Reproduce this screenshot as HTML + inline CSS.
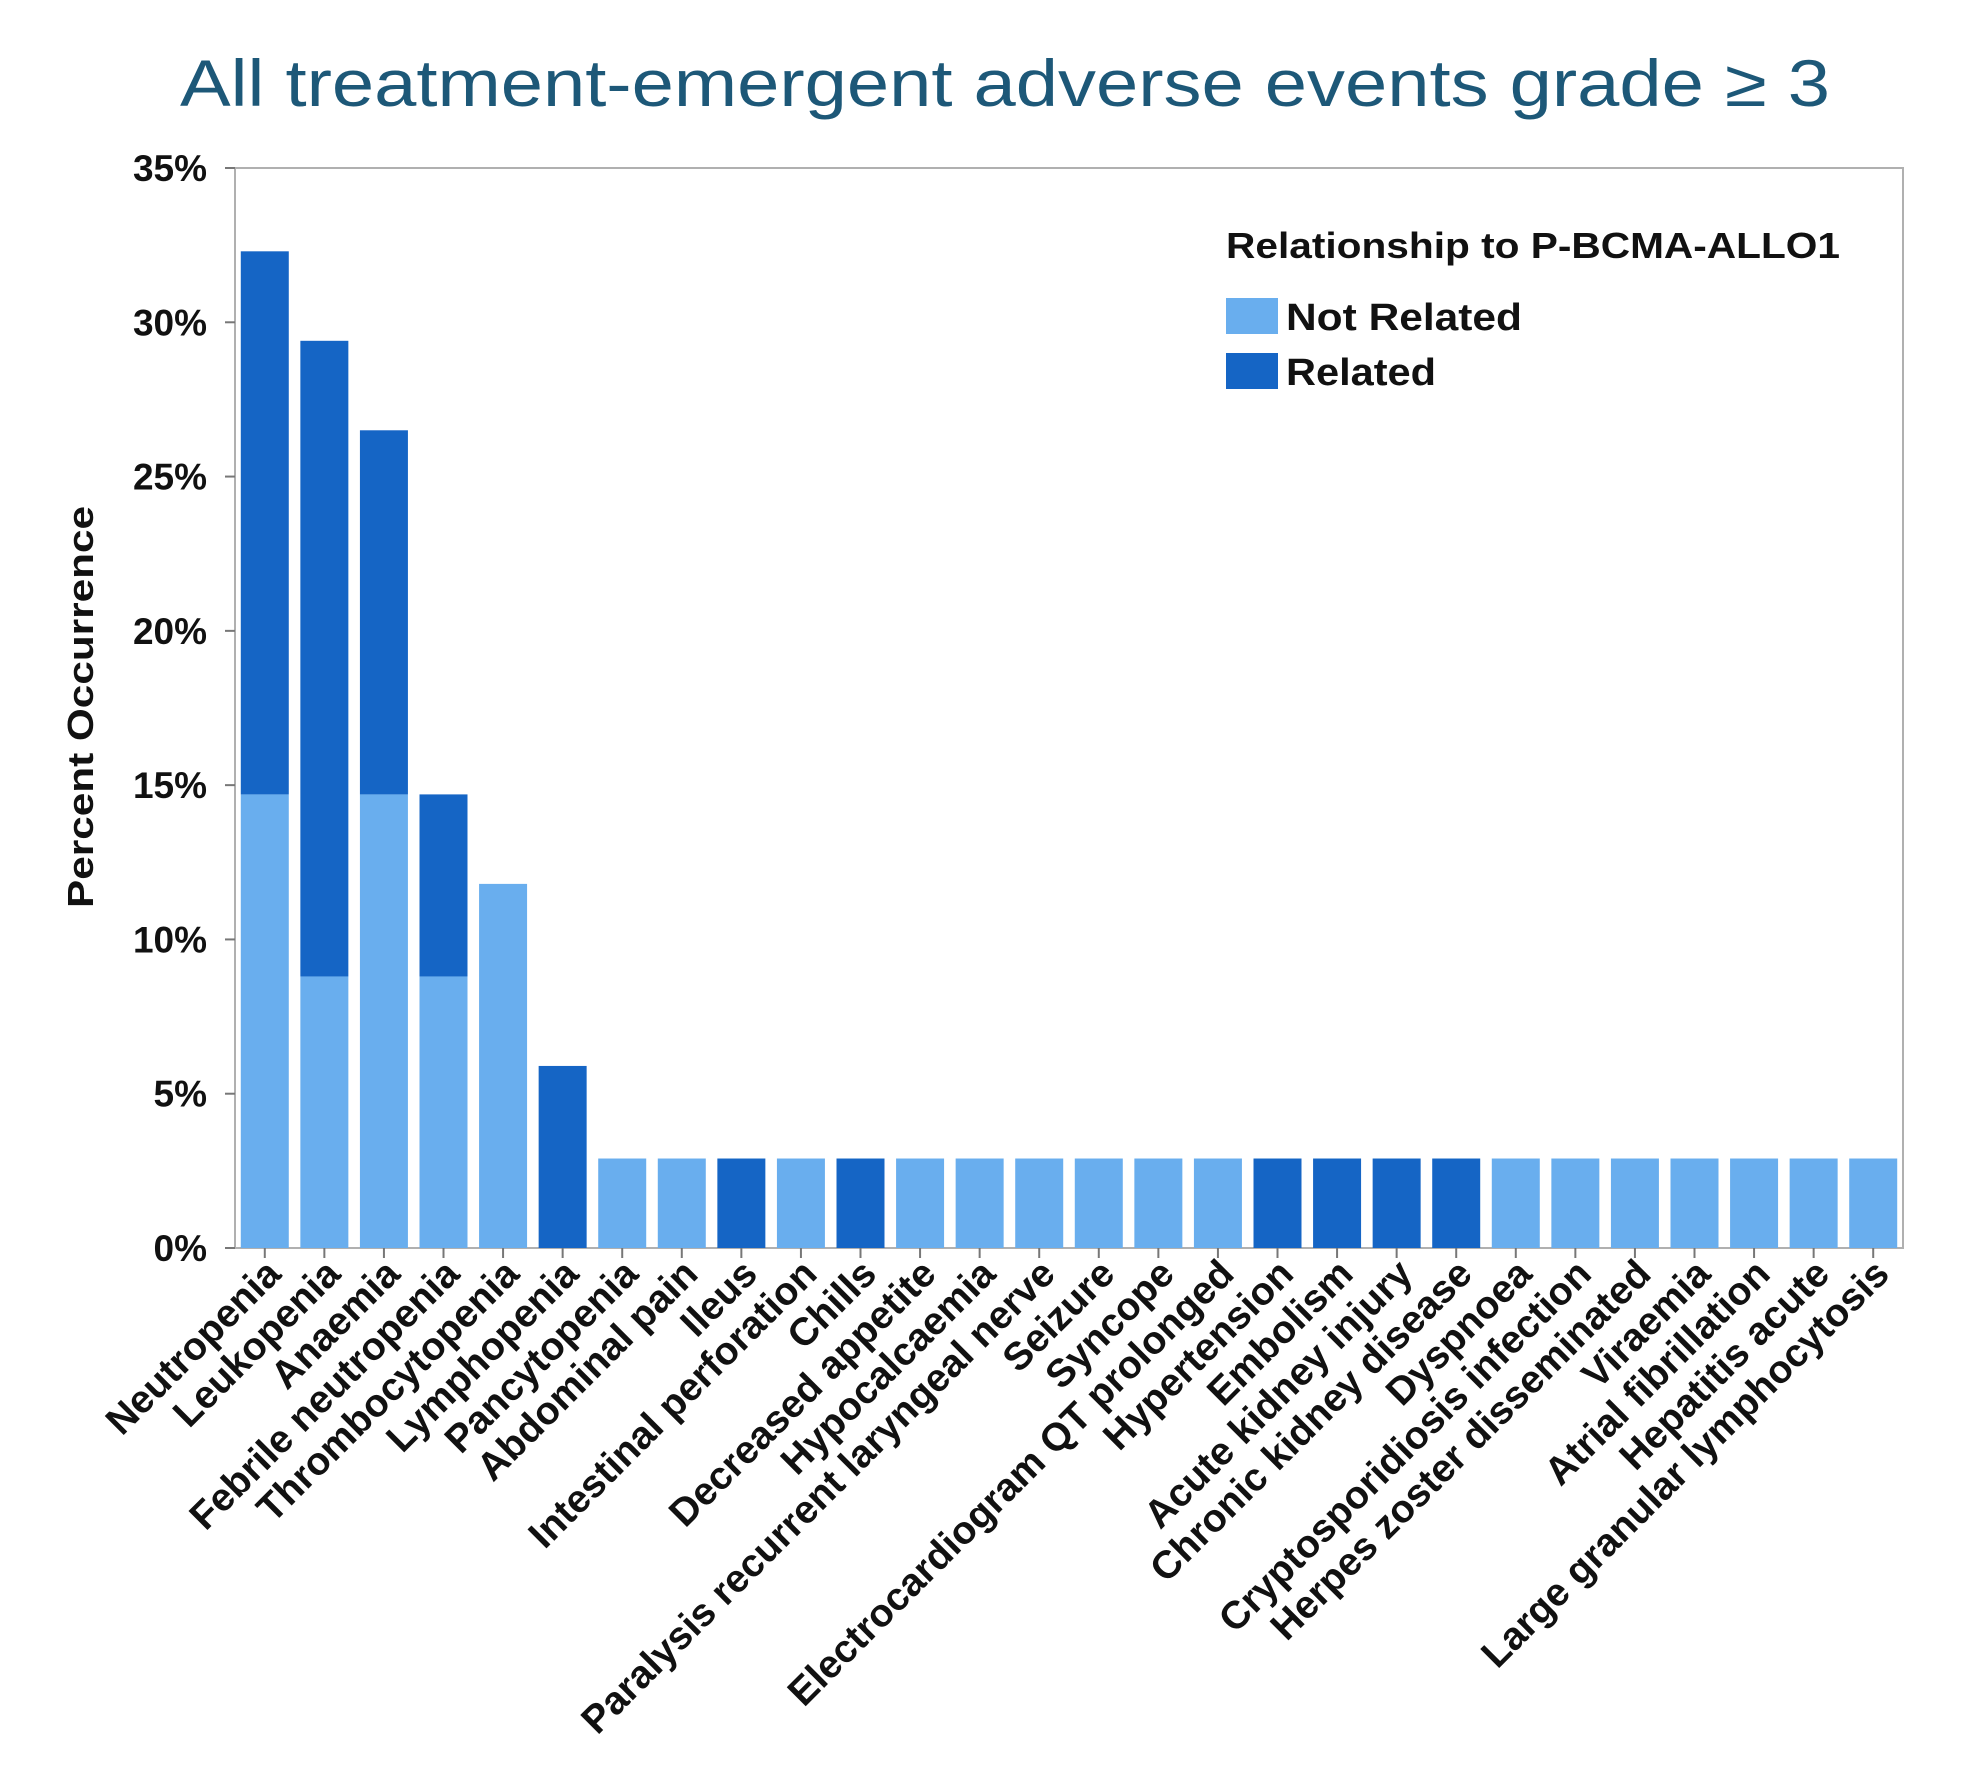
<!DOCTYPE html>
<html><head><meta charset="utf-8"><style>
html,body{margin:0;padding:0;background:#fff;}
svg{display:block;font-family:"Liberation Sans",sans-serif;}
</style></head><body>
<svg id="chart" width="1968" height="1775" viewBox="0 0 1968 1775">
<text x="1005" y="106" text-anchor="middle" font-size="66" fill="#1d5878" textLength="1650" lengthAdjust="spacingAndGlyphs">All treatment-emergent adverse events grade ≥ 3</text>
<g id="axes"></g>
<g id="bars"></g>
<g id="xlabels"></g>
<text transform="translate(93,707) rotate(-90)" text-anchor="middle" font-size="36" font-weight="bold" fill="#111" textLength="402" lengthAdjust="spacingAndGlyphs">Percent Occurrence</text>
<g>
<text x="1226" y="258" font-size="36" font-weight="bold" fill="#111" textLength="614" lengthAdjust="spacingAndGlyphs">Relationship to P-BCMA-ALLO1</text>
<rect x="1226" y="298" width="52" height="36" fill="#69aeee"/>
<text x="1286" y="330" font-size="38" font-weight="bold" fill="#111" textLength="236" lengthAdjust="spacingAndGlyphs">Not Related</text>
<rect x="1226" y="353" width="52" height="36" fill="#1565c5"/>
<text x="1286" y="385" font-size="38" font-weight="bold" fill="#111" textLength="150" lengthAdjust="spacingAndGlyphs">Related</text>
</g>
</svg>
<script>
const categories=["Neutropenia","Leukopenia","Anaemia","Febrile neutropenia","Thrombocytopenia","Lymphopenia","Pancytopenia","Abdominal pain","Ileus","Intestinal perforation","Chills","Decreased appetite","Hypocalcaemia","Paralysis recurrent laryngeal nerve","Seizure","Syncope","Electrocardiogram QT prolonged","Hypertension","Embolism","Acute kidney injury","Chronic kidney disease","Dyspnoea","Cryptosporidiosis infection","Herpes zoster disseminated","Viraemia","Atrial fibrillation","Hepatitis acute","Large granular lymphocytosis"];
const notRelated=[14.7,8.8,14.7,8.8,11.8,0,2.9,2.9,0,2.9,0,2.9,2.9,2.9,2.9,2.9,2.9,0,0,0,0,2.9,2.9,2.9,2.9,2.9,2.9,2.9];
const related=[17.6,20.6,11.8,5.9,0,5.9,0,0,2.9,0,2.9,0,0,0,0,0,0,2.9,2.9,2.9,2.9,0,0,0,0,0,0,0];
const yTicks=[0,5,10,15,20,25,30,35];
const yTickLabels=["0%","5%","10%","15%","20%","25%","30%","35%"];
const NS="http://www.w3.org/2000/svg";
const L=235,R=1903,T=168,B=1248,yMax=35;
const y=v=>B-(v/yMax)*(B-T);
const step=(R-L)/categories.length;
const x=i=>L+step*(i+0.5);
const bw=48;
function mk(tag,attrs,parent){const e=document.createElementNS(NS,tag);for(const k in attrs)e.setAttribute(k,attrs[k]);parent.appendChild(e);return e;}
const axes=document.getElementById('axes');
let frame=mk('rect',{x:L,y:T,width:R-L,height:B-T,fill:'none',stroke:'#b0b0b0','stroke-width':2},axes);


yTicks.forEach((t,i)=>{
 let tk=mk('line',{x1:L-10,x2:L,y1:y(t),y2:y(t),stroke:'#777','stroke-width':2},axes);
 
 
 let tl=mk('text',{x:L-28,y:y(t)+13,'text-anchor':'end','font-size':37,'font-weight':'bold',fill:'#111'},axes);
 tl.textContent=yTickLabels[i];
 
 
});
const bars=document.getElementById('bars'),xl=document.getElementById('xlabels');
categories.forEach((c,i)=>{
 const cx=x(i);
 if(notRelated[i]>0){
  let r=mk('rect',{x:cx-bw/2,y:y(notRelated[i]),width:bw,height:B-y(notRelated[i]),fill:'#69aeee'},bars);
  
  
 }
 if(related[i]>0){
  const top=notRelated[i]+related[i];
  let r=mk('rect',{x:cx-bw/2,y:y(top),width:bw,height:y(notRelated[i])-y(top),fill:'#1565c5'},bars);
  
  
 }
 let tk=mk('line',{x1:cx,x2:cx,y1:B,y2:B+10,stroke:'#777','stroke-width':2},axes);
 
 
 let t=mk('text',{transform:`translate(${cx+18},${B+28}) rotate(-45)`,'text-anchor':'end','font-size':39,'font-weight':'bold',fill:'#111'},xl);
 t.textContent=c;
 
 
});
</script>
</body></html>
